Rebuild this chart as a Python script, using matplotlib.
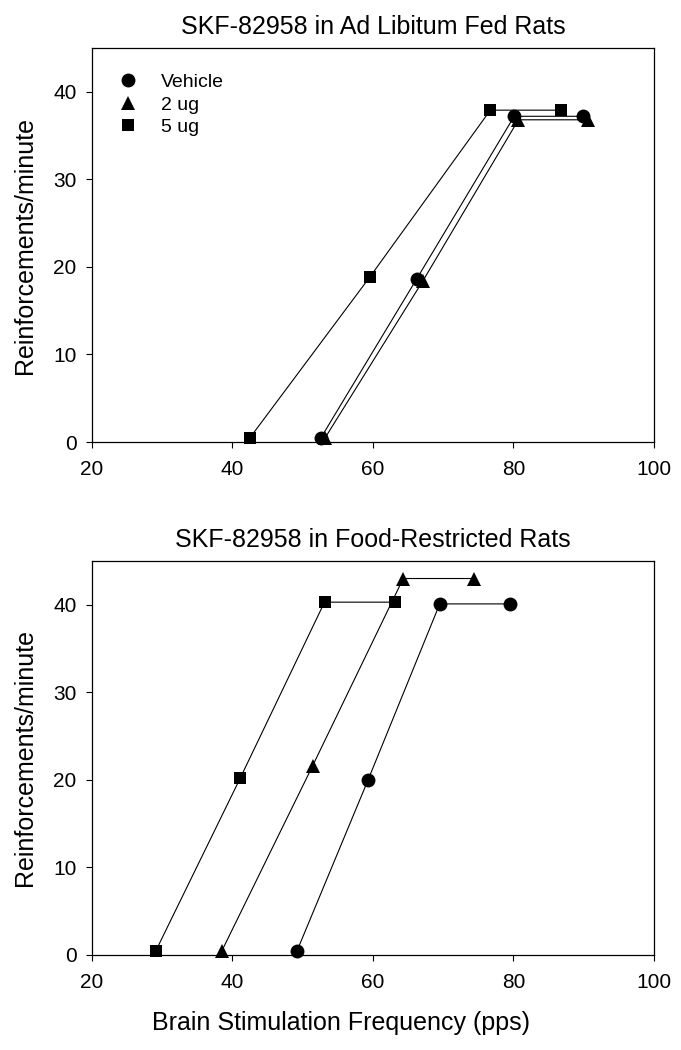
import matplotlib
matplotlib.use('Agg')
import matplotlib.pyplot as plt
from matplotlib.lines import Line2D

plt.rcParams['font.family'] = ['Liberation Sans', 'DejaVu Sans']

# Frequency (pps) and reinforcement rate for each dose
labels = ['Vehicle', '2 ug', '5 ug']
markers = ['o', '^', 's']

fed_freq = [
    [52.6, 66.2, 80.1, 89.9],
    [53.2, 67.1, 80.7, 90.6],
    [42.5, 59.6, 76.7, 86.7],
]
fed_rate = [
    [0.5, 18.6, 37.2, 37.2],
    [0.5, 18.4, 36.8, 36.8],
    [0.5, 18.9, 37.9, 37.9],
]

restricted_freq = [
    [49.2, 59.3, 69.5, 79.5],
    [38.5, 51.4, 64.3, 74.4],
    [29.1, 41.1, 53.1, 63.1],
]
restricted_rate = [
    [0.5, 20.0, 40.1, 40.1],
    [0.5, 21.6, 43.0, 43.0],
    [0.5, 20.2, 40.3, 40.3],
]

titles = ['SKF-82958 in Ad Libitum Fed Rats', 'SKF-82958 in Food-Restricted Rats']

W, H = 681, 1050
fig = plt.figure(figsize=(W / 100, H / 100), dpi=100)

# axes boxes in pixels: left, top, right, bottom
boxes = [(92, 48, 654, 442), (92, 561, 654, 955)]
panels = [(fed_freq, fed_rate), (restricted_freq, restricted_rate)]

sizes = {'o': 10, '^': 10, 's': 9}

for i, (box, (freqs, rates)) in enumerate(zip(boxes, panels)):
    l, t, r, b = box
    ax = fig.add_axes([l / W, 1 - b / H, (r - l) / W, (b - t) / H])
    for f, y, m in zip(freqs, rates, markers):
        ax.plot(f, y, color='black', lw=0.8, marker=m, ms=sizes[m],
                markeredgewidth=0, clip_on=False, zorder=3)
    ax.set_xlim(20, 100)
    ax.set_ylim(0, 45)
    ax.set_xticks([20, 40, 60, 80, 100])
    ax.set_yticks([0, 10, 20, 30, 40])
    ax.tick_params(direction='out', length=4, width=0.8, labelsize=15,
                   top=False, right=False)
    ax.tick_params(axis='x', pad=9)
    ax.tick_params(axis='y', pad=7)
    for s in ax.spines.values():
        s.set_linewidth(0.9)
    ax.text(0.5, 1 + 21 / (b - t), titles[i], transform=ax.transAxes,
            ha='center', va='center', fontsize=18)
    fig.text(25 / W, 1 - ((t + b) / 2) / H, 'Reinforcements/minute',
             rotation=90, ha='center', va='center', fontsize=18)
    if i == 0:
        handles = [Line2D([], [], color='black', marker=m, ls='none',
                          ms=sizes[m], markeredgewidth=0) for m in markers]
        ax.legend(handles, labels, loc='upper left', frameon=False,
                  bbox_to_anchor=(0.015, 0.955), fontsize=14,
                  handletextpad=0.7, labelspacing=0.25, borderaxespad=0)

fig.text(0.5, 1 - 1023 / H, 'Brain Stimulation Frequency (pps)',
         ha='center', va='center', fontsize=18)

fig.savefig('out.png', dpi=100)
